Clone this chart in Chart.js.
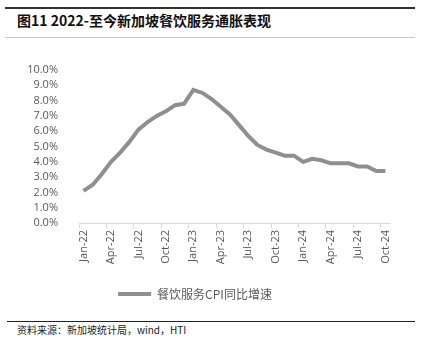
<!DOCTYPE html>
<html>
<head>
<meta charset="utf-8">
<script src="https://cdn.jsdelivr.net/npm/chart.js@4.4.0/dist/chart.umd.min.js"></script>
<style>
  body { margin: 0; background: #fff; width: 425px; height: 351px; position: relative; overflow: hidden; }
  .rule { position: absolute; }
  #title { position: absolute; left: 17px; top: 10px; font: bold 14px "Noto Sans CJK SC", sans-serif; color: #111; white-space: nowrap; }
  #source { position: absolute; left: 17px; top: 322px; font: 10px "Noto Sans CJK SC", sans-serif; color: #222; white-space: nowrap; }
  #wrap { position: absolute; left: 0; top: 40px; width: 415px; height: 270px; }
</style>
</head>
<body>
<div class="rule" style="left:5px;top:7px;width:410px;height:2px;background:#333"></div>
<div id="title">图11 2022-至今新加坡餐饮服务通胀表现</div>
<div class="rule" style="left:5px;top:37px;width:410px;height:1px;background:#c8c8c8"></div>
<div id="wrap"><canvas id="chart"></canvas></div>
<div class="rule" style="left:7px;top:321px;width:408px;height:1px;background:#222"></div>
<div id="source">资料来源：新加坡统计局，wind，HTI</div>
<script>
const months = [
  "Jan-22", "Feb-22", "Mar-22", "Apr-22", "May-22", "Jun-22", "Jul-22", "Aug-22", "Sep-22", "Oct-22", "Nov-22", "Dec-22",
  "Jan-23", "Feb-23", "Mar-23", "Apr-23", "May-23", "Jun-23", "Jul-23", "Aug-23", "Sep-23", "Oct-23", "Nov-23", "Dec-23",
  "Jan-24", "Feb-24", "Mar-24", "Apr-24", "May-24", "Jun-24", "Jul-24", "Aug-24", "Sep-24", "Oct-24"
];
const foodServicesCpi = [
  2.1, 2.5, 3.2, 4.0, 4.6, 5.3, 6.1, 6.6, 7.0, 7.3, 7.7, 7.8,
  8.7, 8.5, 8.1, 7.6, 7.1, 6.4, 5.7, 5.1, 4.8, 4.6, 4.4, 4.4,
  4.0, 4.2, 4.1, 3.9, 3.9, 3.9, 3.7, 3.7, 3.4, 3.4
];
const seriesName = "餐饮服务CPI同比增速";

const lineGray = "#8f8f8f";
const textGray = "#595959";

const ctx = document.getElementById("chart");
new Chart(ctx, {
  type: "line",
  data: {
    labels: months,
    datasets: [{
      label: seriesName,
      data: foodServicesCpi,
      borderColor: lineGray,
      backgroundColor: lineGray,
      borderWidth: 4,
      pointRadius: 0,
      tension: 0
    }]
  },
  options: {
    responsive: true,
    maintainAspectRatio: false,
    animation: false,
    layout: { padding: { top: 30, right: 25, left: 0, bottom: 0 } },
    plugins: {
      tooltip: { enabled: false },
      legend: {
        position: "bottom",
        labels: {
          boxWidth: 33,
          boxHeight: 4,
          padding: 10,
          color: textGray,
          font: { family: "Noto Sans CJK SC", size: 12 },
          generateLabels(chart) {
            const items = Chart.defaults.plugins.legend.labels.generateLabels(chart);
            items.forEach(it => { it.lineWidth = 0; it.fillStyle = lineGray; });
            return items;
          }
        }
      }
    },
    scales: {
      x: {
        offset: true,
        afterFit(s) { s.height = 55; },
        border: { display: true, color: "#d9d9d9", width: 1 },
        grid: {
          offset: true,
          drawOnChartArea: false,
          drawTicks: true,
          tickLength: 5,
          color: c => (c.index % 3 === 0 && c.index < months.length) ? "#d9d9d9" : "rgba(0,0,0,0)"
        },
        ticks: {
          autoSkip: false,
          maxRotation: 90,
          minRotation: 90,
          padding: 2,
          color: textGray,
          font: { family: "Open Sans", size: 11 },
          callback(v, i) { return i % 3 === 0 ? months[i] : ""; }
        }
      },
      y: {
        min: 0,
        max: 10,
        afterFit(s) { s.width = 79; },
        border: { display: false },
        grid: { display: false },
        ticks: {
          stepSize: 1,
          autoSkip: false,
          padding: 13,
          color: textGray,
          font: { family: "Open Sans", size: 11 },
          callback: v => v.toFixed(1) + "%"
        }
      }
    }
  }
});
</script>
</body>
</html>
